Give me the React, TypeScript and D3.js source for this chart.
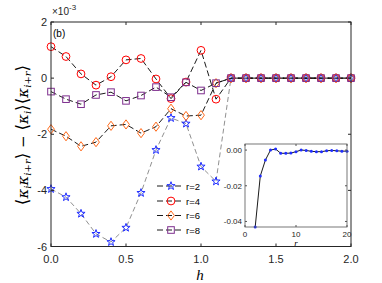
import React from "react";
import * as d3 from "d3";

// h values on the main axis
const hValues = [0, 0.1, 0.2, 0.3, 0.4, 0.5, 0.6, 0.7, 0.8, 0.9, 1.0, 1.1, 1.2, 1.3, 1.4, 1.5, 1.6, 1.7, 1.8, 1.9, 2.0];

// values in units of 1e-3
const r2 = [-3.95, -4.24, -4.83, -5.55, -5.84, -5.33, -4.09, -2.56, -1.42, -1.62, -3.15, -3.68, 0, 0, 0, 0, 0, 0, 0, 0, 0];
const r4 = [1.12, 0.77, 0.15, -0.25, 0.05, 0.65, 0.7, -0.03, -0.73, -0.14, 0.99, -0.75, 0, 0, 0, 0, 0, 0, 0, 0, 0];
const r6 = [-1.82, -2.07, -2.43, -2.28, -1.7, -1.65, -1.96, -1.73, -1.09, -1.35, -1.32, -0.18, 0, 0, 0, 0, 0, 0, 0, 0, 0];
const r8 = [-0.48, -0.75, -0.93, -0.6, -0.5, -0.81, -0.62, -0.32, -0.68, -0.15, -0.44, -0.18, 0, 0, 0, 0, 0, 0, 0, 0, 0];

// inset: value against distance r
const insetR = [2, 3, 4, 5, 6, 7, 8, 9, 10, 11, 12, 13, 14, 15, 16, 17, 18, 19, 20];
const insetV = [-0.0431, -0.0145, -0.0056, 0.0, 0.0006, -0.0018, -0.0018, -0.0017, -0.0009, 0.0, -0.0002, -0.0007, -0.0009, -0.0009, -0.0004, -0.0002, -0.0004, -0.0006, -0.0006];

const xTicks = [0, 0.5, 1, 1.5, 2];
const yTicks = [-6, -4, -2, 0, 2];
const insetXTicks = [0, 10, 20];
const insetYTicks = [-0.04, -0.02, 0];

const series = [
  { name: "r=2", values: r2, color: "#1f2dff", marker: "star" },
  { name: "r=4", values: r4, color: "#ff0000", marker: "circle" },
  { name: "r=6", values: r6, color: "#ff6a1a", marker: "diamond" },
  { name: "r=8", values: r8, color: "#7e2f8e", marker: "square" },
];

const axisColor = "#262626";
const font = "'Liberation Sans', Arial, sans-serif";

function starPath(R: number) {
  const pts: string[] = [];
  for (let i = 0; i < 10; i++) {
    const rad = i % 2 === 0 ? R : R * 0.4;
    const a = -Math.PI / 2 + (i * Math.PI) / 5;
    pts.push(`${(rad * Math.cos(a)).toFixed(2)},${(rad * Math.sin(a)).toFixed(2)}`);
  }
  return "M" + pts.join("L") + "Z";
}

function Marker({ type, x, y, color }: { type: string; x: number; y: number; color: string }) {
  const common = { fill: "none", stroke: color, strokeWidth: 1 };
  if (type === "circle") return <circle cx={x} cy={y} r={3.9} {...common} />;
  if (type === "square") return <rect x={x - 3.3} y={y - 3.3} width={6.6} height={6.6} {...common} />;
  if (type === "diamond")
    return <path d={`M${x},${y - 4.6}L${x + 3.4},${y}L${x},${y + 4.6}L${x - 3.4},${y}Z`} {...common} />;
  return <path d={starPath(4.3)} transform={`translate(${x},${y})`} {...common} />;
}

export default function App() {
  const width = 382;
  const height = 283;
  const x = d3.scaleLinear().domain([0, 2]).range([51, 351]);
  const y = d3.scaleLinear().domain([-6, 2]).range([246.5, 22]);

  const ix = d3.scaleLinear().domain([0, 20]).range([245, 347]);
  const iy = d3.scaleLinear().domain([-0.0431, 0.0034]).range([227, 144]);

  const line = (vals: number[]) =>
    d3.line<number>().x((_, i) => x(hValues[i])).y((d) => y(d))(vals) || "";

  const insetLine = d3.line<number>().x((_, i) => ix(insetR[i])).y((d) => iy(d))(insetV) || "";

  const [x0, x1] = x.range();
  const [yb, yt] = y.range();
  const [ix0, ix1] = ix.range();
  const [iyb, iyt] = iy.range();

  const legendY = [186, 201, 215.5, 230];

  return (
    <svg width={width} height={height} style={{ position: "absolute", left: 0, top: 0, background: "#fff" }}>
      {/* series lines */}
      {series.map((s, k) => (
        <path
          key={s.name}
          d={line(s.values)}
          fill="none"
          stroke={k === 0 ? "#444" : "#000"}
          strokeWidth={k === 0 ? 0.6 : 0.9}
          strokeDasharray={k === 0 ? "5 3" : "6 3"}
        />
      ))}
      {series.map((s) =>
        s.values.map((v, i) => (
          <Marker key={s.name + i} type={s.marker} x={x(hValues[i])} y={y(v)} color={s.color} />
        ))
      )}

      {/* main axes box */}
      <rect x={x0} y={yt} width={x1 - x0} height={yb - yt} fill="none" stroke={axisColor} strokeWidth={1} />
      {xTicks.map((t) => (
        <g key={"xt" + t}>
          <line x1={x(t)} x2={x(t)} y1={yb} y2={yb - 3} stroke={axisColor} />
          <line x1={x(t)} x2={x(t)} y1={yt} y2={yt + 3} stroke={axisColor} />
          <text x={x(t)} y={yb + 16} textAnchor="middle" fontFamily={font} fontSize={11} fill={axisColor}>
            {t.toFixed(1)}
          </text>
        </g>
      ))}
      {yTicks.map((t) => (
        <g key={"yt" + t}>
          <line x1={x0} x2={x0 + 3} y1={y(t)} y2={y(t)} stroke={axisColor} />
          <line x1={x1} x2={x1 - 3} y1={y(t)} y2={y(t)} stroke={axisColor} />
          <text x={x0 - 4} y={y(t) + 4} textAnchor="end" fontFamily={font} fontSize={11} fill={axisColor}>
            {t < 0 ? "-" + Math.abs(t) : t}
          </text>
        </g>
      ))}
      <text x={52} y={15} fontFamily={font} fontSize={10} fill={axisColor}>
        ×10
        <tspan dy={-5} fontSize={8}>-3</tspan>
      </text>
      <text x={53} y={37} fontFamily={font} fontSize={10} fill="#000">(b)</text>

      {/* axis labels */}
      <text x={200} y={280} textAnchor="middle" fontFamily="'Liberation Serif', serif" fontStyle="italic" fontSize={15}>
        h
      </text>
      <text
        transform="translate(28,135) rotate(-90)"
        textAnchor="middle"
        fontFamily="'DejaVu Serif', serif"
        fontSize={15}
        fill="#000"
      >
        <tspan fontSize={17}>⟨</tspan>
        <tspan fontStyle="italic">κ</tspan>
        <tspan fontStyle="italic" fontSize={10} dy={3}>i</tspan>
        <tspan fontStyle="italic" dy={-3}>κ</tspan>
        <tspan fontStyle="italic" fontSize={10} dy={3}>i+r</tspan>
        <tspan fontSize={17} dy={-3}>⟩</tspan>
        <tspan> − </tspan>
        <tspan fontSize={17}>⟨</tspan>
        <tspan fontStyle="italic">κ</tspan>
        <tspan fontStyle="italic" fontSize={10} dy={3}>i</tspan>
        <tspan fontSize={17} dy={-3}>⟩⟨</tspan>
        <tspan fontStyle="italic">κ</tspan>
        <tspan fontStyle="italic" fontSize={10} dy={3}>i+r</tspan>
        <tspan fontSize={17} dy={-3}>⟩</tspan>
      </text>

      {/* legend */}
      {series.map((s, k) => (
        <g key={"lg" + s.name}>
          <line x1={157} x2={184} y1={legendY[k]} y2={legendY[k]} stroke="#000" strokeWidth={0.9} strokeDasharray="6 3" />
          <Marker type={s.marker} x={171} y={legendY[k]} color={s.color} />
          <text x={186} y={legendY[k] + 3.5} fontFamily={font} fontSize={9.5} fill="#000">
            {s.name}
          </text>
        </g>
      ))}

      {/* inset */}
      <rect x={ix0} y={iyt} width={ix1 - ix0} height={iyb - iyt} fill="#fff" stroke="none" />
      <path d={insetLine} fill="none" stroke="#000" strokeWidth={0.9} />
      {insetV.map((v, i) => (
        <circle key={"ip" + i} cx={ix(insetR[i])} cy={iy(v)} r={1.5} fill="#1f2dff" />
      ))}
      <rect x={ix0} y={iyt} width={ix1 - ix0} height={iyb - iyt} fill="none" stroke="#555" strokeWidth={0.8} />
      {insetXTicks.map((t) => (
        <g key={"ixt" + t}>
          <line x1={ix(t)} x2={ix(t)} y1={iyb} y2={iyb - 2} stroke="#555" />
          <line x1={ix(t)} x2={ix(t)} y1={iyt} y2={iyt + 2} stroke="#555" />
          <text x={ix(t)} y={iyb + 10} textAnchor="middle" fontFamily={font} fontSize={8} fill={axisColor}>
            {t}
          </text>
        </g>
      ))}
      {insetYTicks.map((t) => (
        <g key={"iyt" + t}>
          <line x1={ix0} x2={ix0 + 2} y1={iy(t)} y2={iy(t)} stroke="#555" />
          <line x1={ix1} x2={ix1 - 2} y1={iy(t)} y2={iy(t)} stroke="#555" />
          <text x={ix0 - 3} y={iy(t) + 3} textAnchor="end" fontFamily={font} fontSize={8} fill={axisColor}>
            {t < 0 ? "-" + Math.abs(t).toFixed(2) : t.toFixed(2)}
          </text>
        </g>
      ))}
      <text x={296} y={246} textAnchor="middle" fontFamily="'Liberation Serif', serif" fontStyle="italic" fontSize={9}>
        r
      </text>
    </svg>
  );
}
